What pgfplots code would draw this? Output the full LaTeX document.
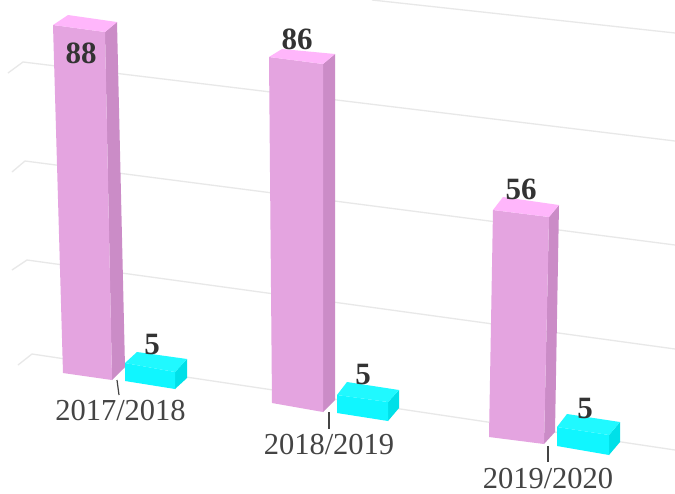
\documentclass[border=0pt]{standalone}
\usepackage{fontspec}
\setmainfont{Liberation Serif}
\usepackage{pgfplots}
\pgfplotsset{compat=1.18}
\definecolor{mfront}{HTML}{E4A4E0}
\definecolor{mtop}{HTML}{FFB6FB}
\definecolor{mside}{HTML}{CB8CC7}
\definecolor{cfront}{HTML}{10F6FF}
\definecolor{ctop}{HTML}{20F9FF}
\definecolor{cside}{HTML}{00E0E8}
\definecolor{gridc}{HTML}{E8E8E8}
\definecolor{ticktxt}{HTML}{444444}
\definecolor{valtxt}{HTML}{333333}
\begin{document}
\begin{tikzpicture}
\begin{axis}[
  scale only axis, width=675pt, height=493pt,
  xmin=0, xmax=675, ymin=0, ymax=493, y dir=reverse,
  axis lines=none,
  nodes={inner sep=0pt, outer sep=0pt}
]
\addplot[fill=white, draw=none] coordinates {(0,0)(675,0)(675,493)(0,493)} --cycle;
% grid lines
\addplot[gridc, line width=1.3pt] coordinates {(372,0)(675,33)};
\addplot[gridc, line width=1.3pt] coordinates {(8,73)(23,62)(675,141)};
\addplot[gridc, line width=1.3pt] coordinates {(12,172)(25,161)(675,245)};
\addplot[gridc, line width=1.3pt] coordinates {(12,270)(27,260)(675,349)};
\addplot[gridc, line width=1.3pt] coordinates {(18,365)(32,354)(675,450)};
% ticks
\addplot[ticktxt, line width=1.2pt] coordinates {(117,380)(119,395)};
\addplot[ticktxt, line width=1.2pt] coordinates {(329,412)(329,429)};
\addplot[ticktxt, line width=1.2pt] coordinates {(548,446)(548,462)};
% 2017/2018 value 88
\addplot[fill=mside, draw=none] coordinates {(105,32)(117,22)(125,367)(112,380)} --cycle;
\addplot[fill=mfront, draw=none] coordinates {(53,25)(105,32)(112,380)(63,373)} --cycle;
\addplot[fill=mtop, draw=none] coordinates {(53,25)(68,15)(117,22)(105,32)} --cycle;
% 2017/2018 value 5
\addplot[fill=cside, draw=none] coordinates {(175,372)(187,359)(187,378)(175,389)} --cycle;
\addplot[fill=cfront, draw=none] coordinates {(125,363)(175,372)(175,389)(125,381)} --cycle;
\addplot[fill=ctop, draw=none] coordinates {(125,363)(137,352)(187,359)(175,372)} --cycle;
% 2018/2019 value 86
\addplot[fill=mside, draw=none] coordinates {(323,64)(335,54)(335,400)(323,412)} --cycle;
\addplot[fill=mfront, draw=none] coordinates {(269,57)(323,64)(323,412)(272,403)} --cycle;
\addplot[fill=mtop, draw=none] coordinates {(269,57)(282,49)(335,54)(323,64)} --cycle;
% 2018/2019 value 5
\addplot[fill=cside, draw=none] coordinates {(388,402)(399,390)(399,408)(388,421)} --cycle;
\addplot[fill=cfront, draw=none] coordinates {(337,395)(388,402)(388,421)(337,413)} --cycle;
\addplot[fill=ctop, draw=none] coordinates {(337,395)(347,382)(399,390)(388,402)} --cycle;
% 2019/2020 value 56
\addplot[fill=mside, draw=none] coordinates {(549,217)(559,205)(555,432)(544,444)} --cycle;
\addplot[fill=mfront, draw=none] coordinates {(493,210)(549,217)(544,444)(489,437)} --cycle;
\addplot[fill=mtop, draw=none] coordinates {(493,210)(503,197)(559,205)(549,217)} --cycle;
% 2019/2020 value 5
\addplot[fill=cside, draw=none] coordinates {(609,435)(620,422)(620,442)(609,455)} --cycle;
\addplot[fill=cfront, draw=none] coordinates {(557,427)(609,435)(609,455)(557,446)} --cycle;
\addplot[fill=ctop, draw=none] coordinates {(557,427)(567,414)(620,422)(609,435)} --cycle;
% value labels
\node[text=valtxt, font=\fontsize{31}{31}\selectfont\bfseries] at (axis cs:81,53) {88};
\node[text=valtxt, font=\fontsize{31}{31}\selectfont\bfseries] at (axis cs:297,39) {86};
\node[text=valtxt, font=\fontsize{31}{31}\selectfont\bfseries] at (axis cs:521,189) {56};
\node[text=valtxt, font=\fontsize{31}{31}\selectfont\bfseries] at (axis cs:152,344) {5};
\node[text=valtxt, font=\fontsize{31}{31}\selectfont\bfseries] at (axis cs:363,374) {5};
\node[text=valtxt, font=\fontsize{31}{31}\selectfont\bfseries] at (axis cs:585,408) {5};
% category labels
\node[text=ticktxt, font=\fontsize{30.5}{30.5}\selectfont] at (axis cs:120.5,411) {2017/2018};
\node[text=ticktxt, font=\fontsize{30.5}{30.5}\selectfont] at (axis cs:329,445) {2018/2019};
\node[text=ticktxt, font=\fontsize{30.5}{30.5}\selectfont] at (axis cs:548,478.5) {2019/2020};
\end{axis}
\end{tikzpicture}
\end{document}
